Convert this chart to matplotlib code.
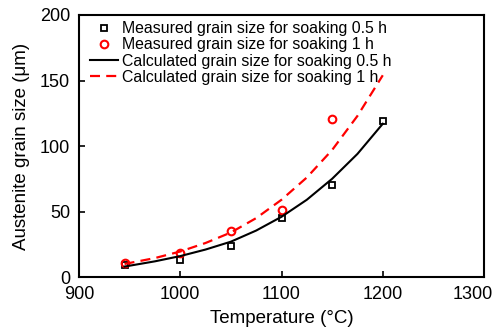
import matplotlib.pyplot as plt
from matplotlib.transforms import ScaledTranslation

plt.rcParams['font.family'] = ['Liberation Sans', 'DejaVu Sans']

# measured grain sizes
temp_meas = [945, 1000, 1050, 1100, 1150, 1200]
size_05h = [9.5, 13, 24, 45, 70, 119]
temp_meas_1h = [945, 1000, 1050, 1100, 1150]
size_1h = [11, 18, 35.5, 51.5, 121]

# calculated grain sizes
temp_calc = [945, 975, 1000, 1025, 1050, 1075, 1100, 1125, 1150, 1175, 1200]
calc_05h = [8, 12, 16, 21, 27, 35.5, 46, 59, 75, 94, 117]
calc_1h = [10, 14.5, 19.5, 26, 34, 45, 59, 76, 97, 123, 154]

fig = plt.figure(figsize=(4.98, 3.33), dpi=100)
ax = fig.add_axes([0.1586, 0.168, 0.8134, 0.787])

ax.plot(temp_meas, size_05h, 's', mfc='none', mec='black', ms=4.5, mew=1.3,
        label='Measured grain size for soaking 0.5 h')
ax.plot(temp_meas_1h, size_1h, 'o', mfc='none', mec='red', ms=5.5, mew=1.5,
        label='Measured grain size for soaking 1 h')
ax.plot(temp_calc, calc_05h, '-', color='black', lw=1.5,
        label='Calculated grain size for soaking 0.5 h')
ax.plot(temp_calc, calc_1h, '--', color='red', lw=1.6, dashes=(4.5, 2.8),
        label='Calculated grain size for soaking 1 h')

ax.set_xlim(900, 1300)
ax.set_ylim(0, 200)
ax.set_xticks([900, 1000, 1100, 1200, 1300])
ax.set_yticks([0, 50, 100, 150, 200])
ax.tick_params(direction='in', length=4, width=1.2, labelsize=13, pad=6.5)
for s in ax.spines.values():
    s.set_linewidth(1.5)

# keep the last x label inside the figure
last = ax.get_xticklabels()[-1]
last.set_transform(last.get_transform() + ScaledTranslation(-8 / 72, 0, fig.dpi_scale_trans))

ax.set_xlabel('Temperature (°C)', fontsize=13.5, labelpad=5)
ax.set_ylabel('Austenite grain size (μm)', fontsize=13.5, labelpad=7)

ax.legend(loc='upper left', frameon=False, fontsize=11.4, handlelength=1.8,
          handletextpad=0.25, labelspacing=0.07, borderaxespad=0.0,
          bbox_to_anchor=(0.011, 1.0))

fig.savefig('out.png', dpi=100)
